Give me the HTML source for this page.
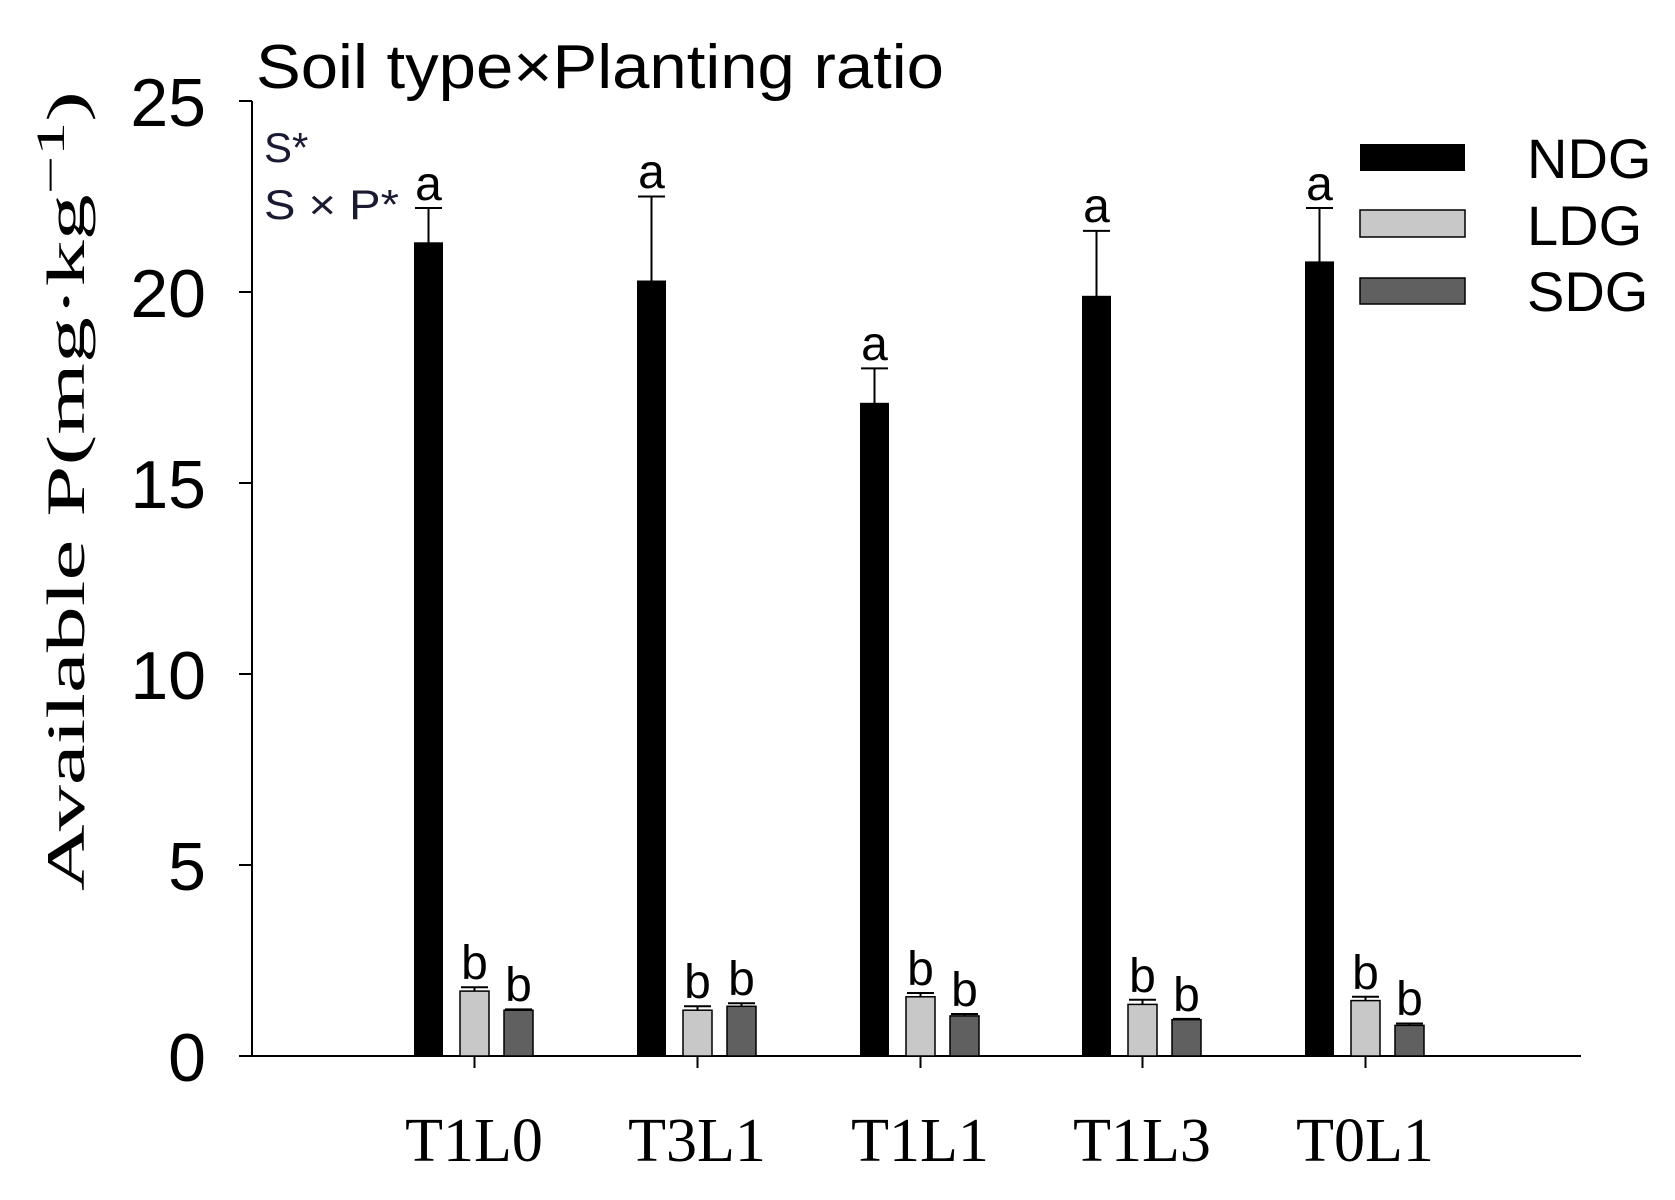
<!DOCTYPE html>
<html><head><style>body{margin:0;background:#fff}</style></head><body>
<svg width="1675" height="1195" xmlns="http://www.w3.org/2000/svg">
<g font-family="Liberation Sans, sans-serif">
<text x="256" y="88" font-size="62" textLength="688" lengthAdjust="spacingAndGlyphs">Soil type×Planting ratio</text>
<text x="264" y="162" font-size="42" fill="#1a1a33">S*</text>
<text x="264" y="219" font-size="42" fill="#1a1a33" textLength="135" lengthAdjust="spacingAndGlyphs">S × P*</text>
</g>
<line x1="252" y1="101" x2="252" y2="1056" stroke="#000" stroke-width="2"/>
<line x1="252" y1="1056" x2="1581" y2="1056" stroke="#000" stroke-width="2"/>
<g font-family="Liberation Sans, sans-serif" font-size="68" text-anchor="end">
<text x="206" y="1081">0</text>
<text x="206" y="890">5</text>
<text x="206" y="699">10</text>
<text x="206" y="508">15</text>
<text x="206" y="317">20</text>
<text x="206" y="126">25</text>
</g>
<g stroke="#000" stroke-width="2">
<line x1="239" y1="1056" x2="252" y2="1056"/><line x1="239" y1="865" x2="252" y2="865"/>
<line x1="239" y1="674" x2="252" y2="674"/><line x1="239" y1="483" x2="252" y2="483"/>
<line x1="239" y1="292" x2="252" y2="292"/><line x1="239" y1="101" x2="252" y2="101"/>
</g>
<text transform="translate(84,491) rotate(-90)" font-family="Liberation Serif, serif" font-size="54" text-anchor="middle" textLength="800" lengthAdjust="spacingAndGlyphs">Available P(mg·kg<tspan dy="-20" font-size="40">−1</tspan><tspan dy="20">)</tspan></text>

<g stroke="#000" stroke-width="2">
<line x1="428.5" y1="208" x2="428.5" y2="243"/><line x1="415" y1="208" x2="442" y2="208"/>
<line x1="651.5" y1="196.5" x2="651.5" y2="281"/><line x1="638" y1="196.5" x2="665" y2="196.5"/>
<line x1="874.5" y1="368.4" x2="874.5" y2="403"/><line x1="861" y1="368.4" x2="888" y2="368.4"/>
<line x1="1096.5" y1="230.9" x2="1096.5" y2="296"/><line x1="1083" y1="230.9" x2="1110" y2="230.9"/>
<line x1="1319.5" y1="208" x2="1319.5" y2="262"/><line x1="1306" y1="208" x2="1333" y2="208"/>

<line x1="474.5" y1="987.2" x2="474.5" y2="992"/><line x1="461" y1="987.2" x2="488" y2="987.2"/>
<line x1="697.5" y1="1006.3" x2="697.5" y2="1011"/><line x1="684" y1="1006.3" x2="711" y2="1006.3"/>
<line x1="920.5" y1="993" x2="920.5" y2="997"/><line x1="907" y1="993" x2="934" y2="993"/>
<line x1="1142.5" y1="999.8" x2="1142.5" y2="1005"/><line x1="1129" y1="999.8" x2="1156" y2="999.8"/>
<line x1="1365.5" y1="996.8" x2="1365.5" y2="1001"/><line x1="1352" y1="996.8" x2="1379" y2="996.8"/>

<line x1="518.5" y1="1009.4" x2="518.5" y2="1011"/><line x1="505" y1="1009.4" x2="532" y2="1009.4"/>
<line x1="741.5" y1="1003.3" x2="741.5" y2="1007"/><line x1="728" y1="1003.3" x2="755" y2="1003.3"/>
<line x1="964.5" y1="1014" x2="964.5" y2="1016"/><line x1="951" y1="1014" x2="978" y2="1014"/>
<line x1="1186.5" y1="1018.9" x2="1186.5" y2="1020"/><line x1="1173" y1="1018.9" x2="1200" y2="1018.9"/>
<line x1="1409.5" y1="1023.5" x2="1409.5" y2="1026"/><line x1="1396" y1="1023.5" x2="1423" y2="1023.5"/>

<line x1="474.5" y1="1056" x2="474.5" y2="1068"/><line x1="697.5" y1="1056" x2="697.5" y2="1068"/>
<line x1="920.5" y1="1056" x2="920.5" y2="1068"/><line x1="1142.5" y1="1056" x2="1142.5" y2="1068"/>
<line x1="1365.5" y1="1056" x2="1365.5" y2="1068"/>
</g>
<g fill="#000">
<rect x="414" y="242.3" width="29" height="813.7"/>
<rect x="637" y="280.5" width="29" height="775.5"/>
<rect x="860" y="402.8" width="29" height="653.2"/>
<rect x="1082" y="295.8" width="29" height="760.2"/>
<rect x="1305" y="261.4" width="29" height="794.6"/>
</g>
<g fill="#c8c8c8" stroke="#000" stroke-width="1.5">
<rect x="460" y="991.1" width="29" height="64.9"/>
<rect x="683" y="1010.2" width="29" height="45.8"/>
<rect x="906" y="996.8" width="29" height="59.2"/>
<rect x="1128" y="1004.4" width="29" height="51.6"/>
<rect x="1351" y="1000.6" width="29" height="55.4"/>
</g>
<g fill="#606060" stroke="#000" stroke-width="1.5">
<rect x="504" y="1010.2" width="29" height="45.8"/>
<rect x="727" y="1006.3" width="29" height="49.7"/>
<rect x="950" y="1015.9" width="29" height="40.1"/>
<rect x="1172" y="1019.7" width="29" height="36.3"/>
<rect x="1395" y="1025.4" width="29" height="30.6"/>
</g>
<g font-family="Liberation Sans, sans-serif" font-size="48" text-anchor="middle">
<text x="428.5" y="200">a</text><text x="651.5" y="188">a</text><text x="874.5" y="360">a</text>
<text x="1096.5" y="222">a</text><text x="1319.5" y="200">a</text>
<text x="474.5" y="979">b</text><text x="697.5" y="998">b</text><text x="920.5" y="985">b</text>
<text x="1142.5" y="992">b</text><text x="1365.5" y="989">b</text>
<text x="518.5" y="1001">b</text><text x="741.5" y="995">b</text><text x="964.5" y="1006">b</text>
<text x="1186.5" y="1011">b</text><text x="1409.5" y="1015">b</text>
</g>
<g font-family="Liberation Serif, serif" font-size="62" text-anchor="middle">
<text x="474" y="1161">T1L0</text><text x="697" y="1161">T3L1</text><text x="920" y="1161">T1L1</text>
<text x="1142" y="1161">T1L3</text><text x="1365" y="1161">T0L1</text>
</g>
<rect x="1360" y="144" width="105" height="27" fill="#000"/>
<rect x="1360" y="210" width="105" height="27" fill="#c8c8c8" stroke="#000" stroke-width="1.5"/>
<rect x="1360" y="278" width="105" height="26" fill="#606060" stroke="#000" stroke-width="1.5"/>
<g font-family="Liberation Sans, sans-serif" font-size="56">
<text x="1527" y="178">NDG</text><text x="1527" y="245">LDG</text><text x="1527" y="311">SDG</text>
</g>
</svg>
</body></html>
